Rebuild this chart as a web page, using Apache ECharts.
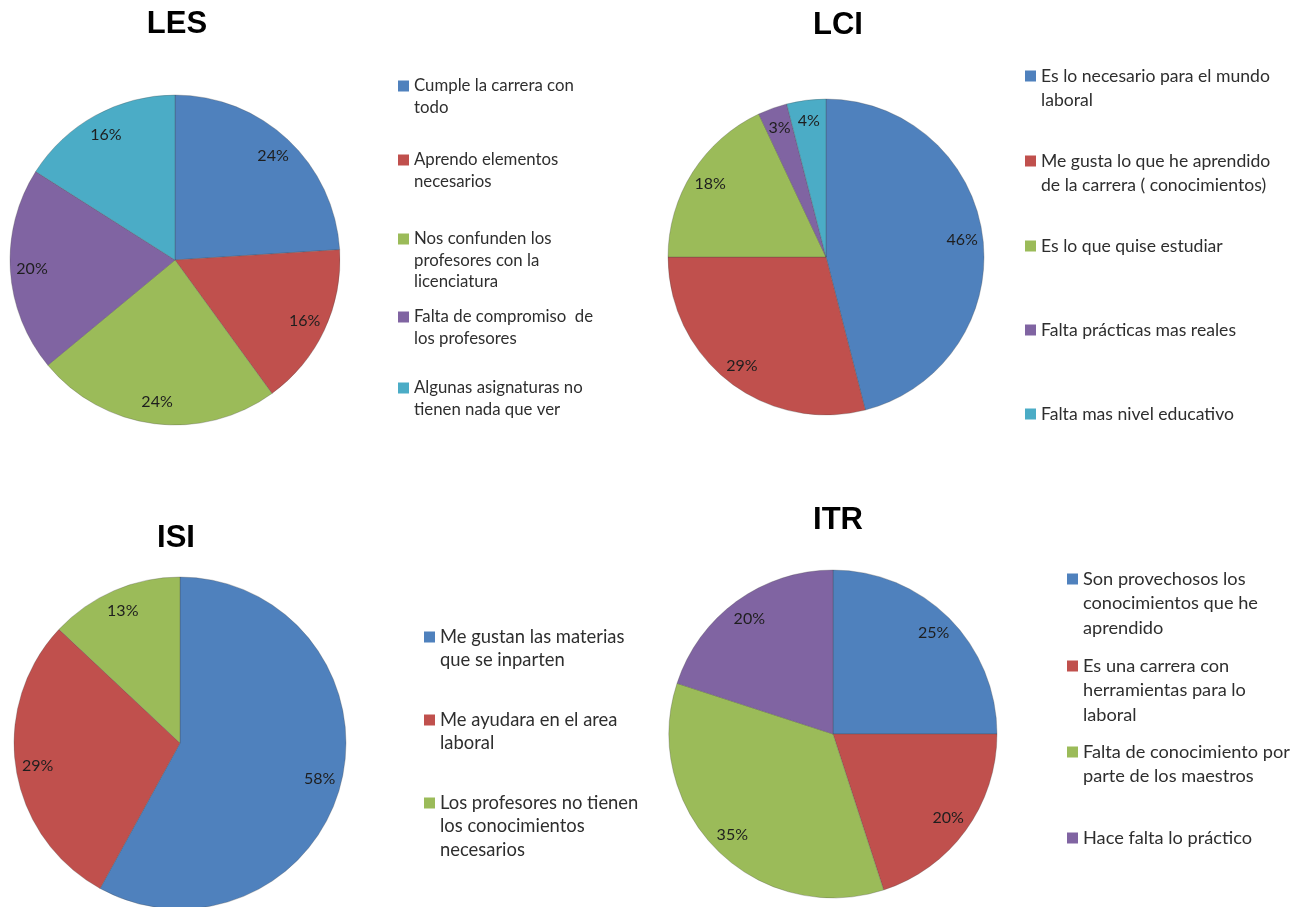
<!DOCTYPE html>
<html>
<head>
<meta charset="utf-8">
<script src="https://cdn.jsdelivr.net/npm/echarts@6/dist/echarts.min.js"></script>
<style>
html,body{margin:0;padding:0;background:#fff;}
#chart{width:1307px;height:907px;}
</style>
</head>
<body>
<div id="chart"></div>
<script>
// ---- DATA ----
const titles = ['LES', 'LCI', 'ISI', 'ITR'];

const lesCategories = [
  'Cumple la carrera con todo',
  'Aprendo elementos necesarios',
  'Nos confunden los profesores con la licenciatura',
  'Falta de compromiso  de los profesores',
  'Algunas asignaturas no tienen nada que ver'
];
const lesValues = [24, 16, 24, 20, 16];

const lciCategories = [
  'Es lo necesario para el mundo laboral',
  'Me gusta lo que he aprendido de la carrera ( conocimientos)',
  'Es lo que quise estudiar',
  'Falta prácticas mas reales',
  'Falta mas nivel educativo'
];
const lciValues = [46, 29, 18, 3, 4];

const isiCategories = [
  'Me gustan las materias que se inparten',
  'Me ayudara en el area laboral',
  'Los profesores no tienen los conocimientos necesarios'
];
const isiValues = [58, 29, 13];

const itrCategories = [
  'Son provechosos los conocimientos que he aprendido',
  'Es una carrera con herramientas para lo laboral',
  'Falta de conocimiento por parte de los maestros',
  'Hace falta lo práctico'
];
const itrValues = [25, 20, 35, 20];

// legend line wrapping as displayed
const lesLegendLines = [
  ['Cumple la carrera con', 'todo'],
  ['Aprendo elementos', 'necesarios'],
  ['Nos confunden los', 'profesores con la', 'licenciatura'],
  ['Falta de compromiso  de', 'los profesores'],
  ['Algunas asignaturas no', 'tienen nada que ver']
];
const lciLegendLines = [
  ['Es lo necesario para el mundo', 'laboral'],
  ['Me gusta lo que he aprendido', 'de la carrera ( conocimientos)'],
  ['Es lo que quise estudiar'],
  ['Falta prácticas mas reales'],
  ['Falta mas nivel educativo']
];
const isiLegendLines = [
  ['Me gustan las materias', 'que se inparten'],
  ['Me ayudara en el area', 'laboral'],
  ['Los profesores no tienen', 'los conocimientos', 'necesarios']
];
const itrLegendLines = [
  ['Son provechosos los', 'conocimientos que he', 'aprendido'],
  ['Es una carrera con', 'herramientas para lo', 'laboral'],
  ['Falta de conocimiento por', 'parte de los maestros'],
  ['Hace falta lo práctico']
];

// ---- STYLE / LAYOUT ----
const COLORS = ['#4F81BD', '#C0504D', '#9BBB59', '#8064A2', '#4BACC6'];
const FONT = 'Lato, "Open Sans", sans-serif';

const charts = [
  { title: titles[0], cats: lesCategories, vals: lesValues, lines: lesLegendLines,
    cx: 175, cy: 260, r: 165, tx: 177, ty: 8.5,
    lx: 398, ly: [86, 160, 239, 317, 388], fs: 16.8, lh: 21.5 },
  { title: titles[1], cats: lciCategories, vals: lciValues, lines: lciLegendLines,
    cx: 826, cy: 257, r: 158, tx: 838, ty: 9.5,
    lx: 1025, ly: [76, 161, 246, 330, 414], fs: 17.6, lh: 24 },
  { title: titles[2], cats: isiCategories, vals: isiValues, lines: isiLegendLines,
    cx: 180, cy: 743, r: 166, tx: 176, ty: 523,
    lx: 424, ly: [637, 720, 803], fs: 18.4, lh: 23.5 },
  { title: titles[3], cats: itrCategories, vals: itrValues, lines: itrLegendLines,
    cx: 833, cy: 734, r: 164, tx: 838, ty: 504.5,
    lx: 1067, ly: [579, 666, 752, 838], fs: 18.2, lh: 24.5 }
];

const titleOpts = [];
const seriesOpts = [];
const legendOpts = [];

charts.forEach(function (c) {
  titleOpts.push({
    text: c.title, left: c.tx, top: c.ty, textAlign: 'center', padding: 0,
    textStyle: { fontFamily: '"Liberation Sans", Arial, sans-serif', fontWeight: 'bold', fontSize: 31, color: '#000' }
  });
  const data = c.cats.map(function (name, i) {
    return { name: name, value: c.vals[i], itemStyle: { color: COLORS[i] } };
  });
  // main pie
  seriesOpts.push({
    type: 'pie', center: [c.cx, c.cy], radius: [0, c.r], startAngle: 90, clockwise: true,
    avoidLabelOverlap: false, silent: true, animation: false,
    label: { show: false }, labelLine: { show: false },
    itemStyle: { borderColor: 'rgba(70,70,70,0.4)', borderWidth: 0.7 },
    data: data
  });
  // label ring (transparent) so that percentages sit near the rim like the original
  seriesOpts.push({
    type: 'pie', center: [c.cx, c.cy], radius: [c.r * 0.7, c.r], startAngle: 90, clockwise: true,
    avoidLabelOverlap: false, silent: true, animation: false,
    itemStyle: { color: 'rgba(0,0,0,0)', borderWidth: 0 },
    label: { show: true, position: 'inside', formatter: '{c}%', fontFamily: FONT, fontSize: 16, color: '#1e1e1e' },
    labelLine: { show: false },
    data: c.cats.map(function (name, i) { return { name: name, value: c.vals[i] }; })
  });
  // one legend block per entry; blank lines above keep the icon level with the first text line
  c.cats.forEach(function (name, i) {
    const n = c.lines[i].length;
    const blanks = new Array(n).join(' \n');
    legendOpts.push({
      data: [{ name: name, itemStyle: { color: COLORS[i], borderWidth: 0 } }],
      orient: 'vertical', left: c.lx,
      top: c.ly[i] - (2 * n - 1) * c.lh / 2,
      padding: 0, itemGap: 0, itemWidth: 11, itemHeight: 11, icon: 'rect',
      selectedMode: false,
      formatter: function () { return blanks + c.lines[i].join('\n'); },
      textStyle: { fontFamily: FONT, fontSize: c.fs, lineHeight: c.lh, color: '#2e2e2e' }
    });
  });
});

const chart = echarts.init(document.getElementById('chart'), null, { renderer: 'canvas' });
chart.setOption({
  backgroundColor: '#fff',
  animation: false,
  title: titleOpts,
  legend: legendOpts,
  series: seriesOpts
});
</script>
</body>
</html>
